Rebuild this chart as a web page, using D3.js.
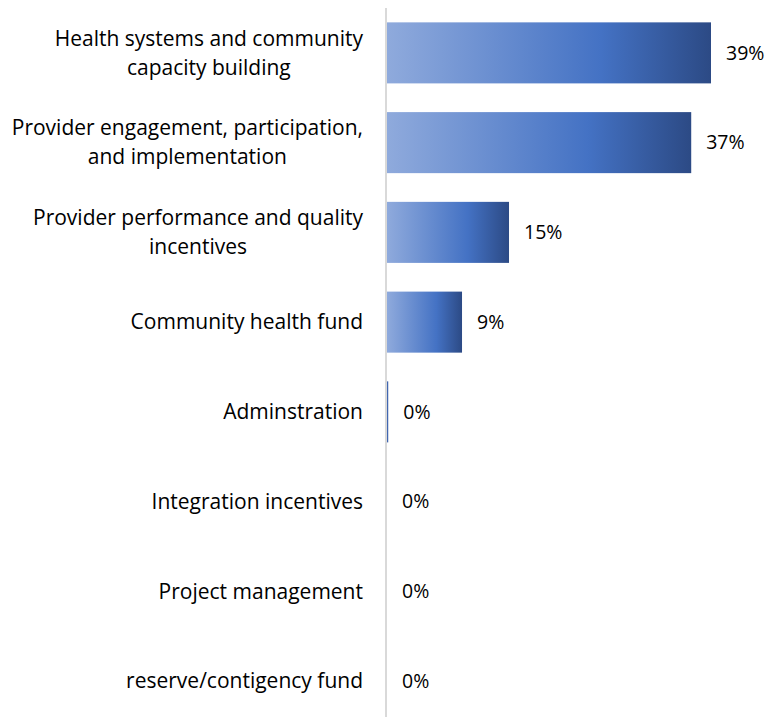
<!DOCTYPE html>
<html>
<head>
<meta charset="utf-8">
<script src="https://cdn.jsdelivr.net/npm/d3@7"></script>
<style>
  body { margin: 0; background: #fff; }
  svg { display: block; font-family: "Open Sans", sans-serif; }
</style>
</head>
<body>
<svg width="773" height="719"></svg>
<script>
const categories = [
  ["Health systems and community", "capacity building"],
  ["Provider engagement, participation,", "and implementation"],
  ["Provider performance and quality", "incentives"],
  ["Community health fund"],
  ["Adminstration"],
  ["Integration incentives"],
  ["Project management"],
  ["reserve/contigency fund"]
];
const shares = [0.393, 0.369, 0.148, 0.091, 0.0015, 0, 0, 0];

const X0 = 387, LABEL_RIGHT = 363;

const svg = d3.select("svg");

const grad = svg.append("defs").append("linearGradient")
  .attr("id", "barGrad")
  .attr("x1", 0).attr("x2", 1).attr("y1", 0).attr("y2", 0);
grad.append("stop").attr("offset", "0%").attr("stop-color", "#8faadc");
grad.append("stop").attr("offset", "66%").attr("stop-color", "#4472c4");
grad.append("stop").attr("offset", "100%").attr("stop-color", "#2c4a85");

const x = d3.scaleLinear().domain([0, 0.393]).range([X0, 711]);
const y = d3.scaleBand().domain(d3.range(categories.length))
  .range([8, 726]).paddingInner(0.32).paddingOuter(0.16);

// bars
svg.append("g").selectAll("rect")
  .data(shares)
  .join("rect")
  .attr("x", X0)
  .attr("y", (d, i) => y(i))
  .attr("height", y.bandwidth())
  .attr("width", d => Math.max(0, x(d) - X0))
  .attr("fill", d => x(d) - X0 < 3 ? "#4066b0" : "url(#barGrad)");

// axis line
svg.append("line")
  .attr("x1", 386).attr("x2", 386)
  .attr("y1", 8).attr("y2", 717)
  .attr("stroke", "#d9d9d9").attr("stroke-width", 2);

// value labels
svg.append("g").selectAll("text")
  .data(shares)
  .join("text")
  .attr("x", d => x(d) + 15)
  .attr("y", (d, i) => y(i) + y.bandwidth() / 2)
  .attr("dy", "0.35em")
  .attr("font-size", 19.5)
  .attr("fill", "#000")
  .text(d => d3.format(".0%")(d));

// category labels, lines centred inside a right-aligned block
const lineH = 29;
const lab = svg.append("g").attr("font-size", 21).attr("fill", "#000");
categories.forEach((lines, i) => {
  const cy = y(i) + y.bandwidth() / 2;
  const t = lab.append("text").attr("text-anchor", "middle");
  const spans = lines.map((s, j) => t.append("tspan")
    .attr("y", cy + (j - (lines.length - 1) / 2) * lineH)
    .attr("dy", "0.35em")
    .text(s));
  const maxW = d3.max(spans, s => s.node().getComputedTextLength());
  spans.forEach(s => s.attr("x", LABEL_RIGHT - maxW / 2));
});
</script>
</body>
</html>
